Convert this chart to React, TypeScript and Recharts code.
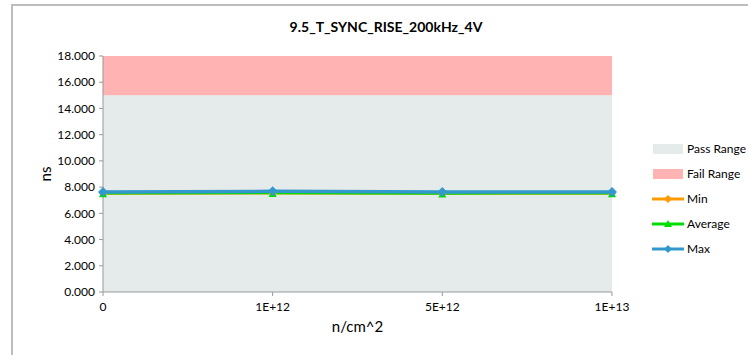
import React from 'react';
import { ComposedChart, Area, Line, XAxis, YAxis, Label } from 'recharts';

const categories = ['0', '1E+12', '5E+12', '1E+13'];
const passRange = [15, 15, 15, 15];
const failRange = [3, 3, 3, 3];
const minValues = [7.52, 7.54, 7.51, 7.52];
const avgValues = [7.53, 7.55, 7.52, 7.53];
const maxValues = [7.62, 7.68, 7.62, 7.63];
const yTicks = [0, 2, 4, 6, 8, 10, 12, 14, 16, 18];

const title = '9.5_T_SYNC_RISE_200kHz_4V';
const xTitle = 'n/cm^2';
const yTitle = 'ns';

const data = categories.map((c, i) => ({
  x: c,
  pass: passRange[i],
  fail: failRange[i],
  min: minValues[i],
  avg: avgValues[i],
  max: maxValues[i],
}));

const FONT = 'Lato, "Open Sans", sans-serif';

const COLORS = {
  pass: '#E5EBEB',
  fail: '#FFB3B3',
  min: '#FF9A00',
  avg: '#00DD00',
  max: '#3399CC',
};

const legendItems = [
  { name: 'Pass Range', color: COLORS.pass, kind: 'rect' },
  { name: 'Fail Range', color: COLORS.fail, kind: 'rect' },
  { name: 'Min', color: COLORS.min, kind: 'diamond' },
  { name: 'Average', color: COLORS.avg, kind: 'triangle' },
  { name: 'Max', color: COLORS.max, kind: 'diamond' },
];

const Diamond = (props: any) => {
  const { cx, cy, fill, r = 4 } = props;
  if (cx == null || cy == null) return null;
  return <path d={`M${cx},${cy - r} L${cx + r},${cy} L${cx},${cy + r} L${cx - r},${cy} Z`} fill={fill} />;
};

const Triangle = (props: any) => {
  const { cx, cy, fill, r = 4 } = props;
  if (cx == null || cy == null) return null;
  return <path d={`M${cx},${cy - r} L${cx + r},${cy + r} L${cx - r},${cy + r} Z`} fill={fill} />;
};

export default function App() {
  return (
    <div style={{ position: 'absolute', left: 0, top: 0, width: 748, height: 355, background: '#fff', fontFamily: FONT }}>
      <div style={{ position: 'absolute', left: 11, top: 4, width: 737, height: 351, borderTop: '2px solid #BDBDBD', borderLeft: '2px solid #BDBDBD', boxSizing: 'border-box' }} />
      <div style={{ position: 'absolute', left: 264, width: 244, top: 18, textAlign: 'center', fontSize: 14, fontWeight: 700, color: '#000', whiteSpace: 'nowrap' }}>
        {title}
      </div>
      <ComposedChart
        width={748}
        height={355}
        data={data}
        margin={{ top: 56, right: 136, bottom: 0, left: 43 }}
        style={{ position: 'absolute', left: 0, top: 0 }}
      >
        <XAxis
          dataKey="x"
          height={63}
          tick={{ fontSize: 12, fill: '#000', fontFamily: FONT }}
          tickLine={{ stroke: '#999' }}
          axisLine={{ stroke: '#999' }}
          tickSize={4}
          tickMargin={6}
          interval={0}
        >
          <Label value={xTitle} position="insideTop" offset={29} style={{ fontSize: 15, fill: '#000', fontFamily: FONT }} />
        </XAxis>
        <YAxis
          width={60}
          domain={[0, 18]}
          ticks={yTicks}
          tickFormatter={(v: number) => v.toFixed(3)}
          tick={{ fontSize: 12, fill: '#000', fontFamily: FONT }}
          tickLine={{ stroke: '#999' }}
          axisLine={{ stroke: '#999' }}
          tickSize={4}
          tickMargin={4}
          interval={0}
        >
          <Label value={yTitle} angle={-90} position="insideLeft" offset={3} style={{ fontSize: 15, fill: '#000', fontFamily: FONT, textAnchor: 'middle' }} />
        </YAxis>
        <Area type="linear" dataKey="pass" stackId="r" stroke="none" fill={COLORS.pass} fillOpacity={1} isAnimationActive={false} dot={false} activeDot={false} />
        <Area type="linear" dataKey="fail" stackId="r" stroke="none" fill={COLORS.fail} fillOpacity={1} isAnimationActive={false} dot={false} activeDot={false} />
        <Line type="linear" dataKey="min" stroke={COLORS.min} strokeWidth={2.5} isAnimationActive={false} dot={<Diamond fill={COLORS.min} r={4} />} activeDot={false} />
        <Line type="linear" dataKey="avg" stroke={COLORS.avg} strokeWidth={2.5} isAnimationActive={false} dot={<Triangle fill={COLORS.avg} r={4} />} activeDot={false} />
        <Line type="linear" dataKey="max" stroke={COLORS.max} strokeWidth={3.5} isAnimationActive={false} dot={<Diamond fill={COLORS.max} r={5} />} activeDot={false} />
      </ComposedChart>
      <svg style={{ position: 'absolute', left: 640, top: 135, overflow: 'visible' }} width={108} height={130}>
        {legendItems.map((it, i) => {
          const y = 14 + i * 25;
          return (
            <g key={it.name}>
              {it.kind === 'rect' ? (
                <rect x={13} y={y - 5} width={30} height={10} fill={it.color} />
              ) : (
                <g>
                  <line x1={12} x2={44} y1={y} y2={y} stroke={it.color} strokeWidth={3} />
                  {it.kind === 'triangle' ? (
                    <path d={`M28,${y - 4} L32,${y + 3} L24,${y + 3} Z`} fill={it.color} />
                  ) : (
                    <path d={`M28,${y - 4} L32,${y} L28,${y + 4} L24,${y} Z`} fill={it.color} />
                  )}
                </g>
              )}
              <text x={47} y={y + 4} fontSize={12} fill="#000" fontFamily={FONT}>{it.name}</text>
            </g>
          );
        })}
      </svg>
    </div>
  );
}
